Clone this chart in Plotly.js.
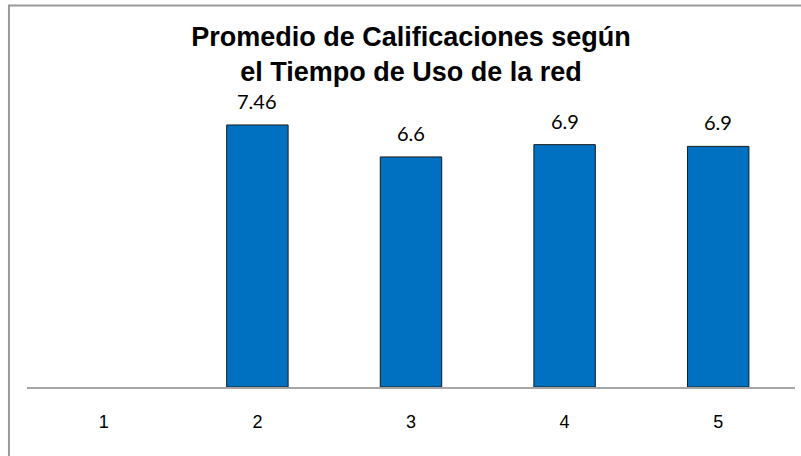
<!DOCTYPE html>
<html>
<head>
<meta charset="utf-8">
<script src="https://cdn.plot.ly/plotly-3.0.1.min.js"></script>
<style>html,body{margin:0;padding:0;background:#fff;}#chart{width:801px;height:456px;}</style>
</head>
<body>
<div id="chart"></div>
<script>
const categories = ["1", "2", "3", "4", "5"];
const values = [null, 7.46, 6.55, 6.9, 6.85];
const labels = ["", "7.46", "6.6", "6.9", "6.9"];
const chartTitle = "Promedio de Calificaciones según<br>el Tiempo de Uso de la red";

const annotations = categories.map((c, i) => values[i] == null ? null : ({
  x: i, y: values[i], xref: "x", yref: "y",
  text: labels[i], showarrow: false, yanchor: "bottom", yshift: 10,
  font: {family: "Lato, 'Open Sans', sans-serif", size: 20, color: "#000"}
})).filter(a => a);

const trace = {
  type: "bar",
  x: categories,
  y: values,
  marker: {color: "#0070C0", line: {color: "#1a1a1a", width: 1}},
  hoverinfo: "x+y"
};

const layout = {
  width: 801, height: 456,
  margin: {l: 27, r: 6, t: 106, b: 69},
  paper_bgcolor: "#fff", plot_bgcolor: "#fff",
  showlegend: false,
  bargap: 0.6,
  title: {
    text: "<b>" + chartTitle + "</b>",
    font: {family: "'Liberation Sans', Arial, sans-serif", size: 27, color: "#000"},
    x: 0.5, xref: "paper", xanchor: "center",
    y: 0.90, yref: "container", yanchor: "top"
  },
  xaxis: {
    type: "category",
    range: [-0.5, 4.5],
    showline: true, linecolor: "#a6a6a6", linewidth: 1.5,
    showgrid: false, zeroline: false, ticks: "",
    ticklabelstandoff: 18,
    tickfont: {family: "'Liberation Sans', Arial, sans-serif", size: 18, color: "#000"}
  },
  yaxis: {
    range: [0, 8], visible: false, showgrid: false, zeroline: false, fixedrange: true
  },
  annotations: annotations,
  shapes: [{
    type: "rect", xref: "paper", yref: "paper",
    x0: -0.0235, x1: 1.2, y0: -0.5, y1: 1.3575,
    line: {color: "#9a9a9a", width: 2}, fillcolor: "rgba(0,0,0,0)", layer: "below"
  }]
};

Plotly.newPlot("chart", [trace], layout, {displayModeBar: false, staticPlot: true});
</script>
</body>
</html>
